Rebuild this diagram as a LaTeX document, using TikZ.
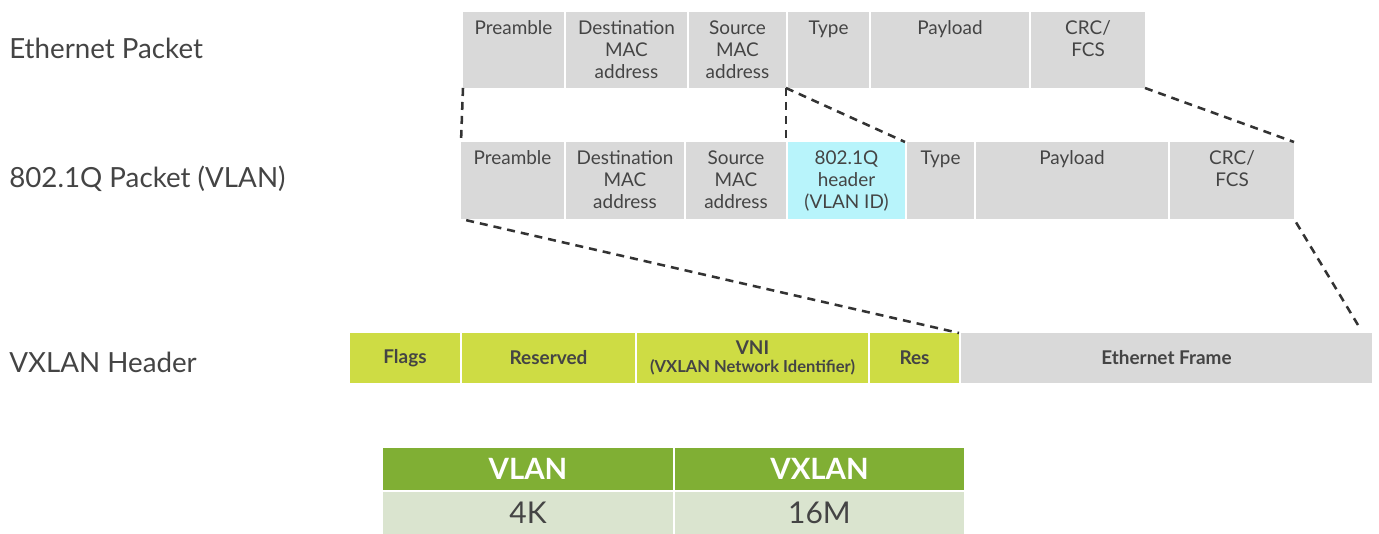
\documentclass[tikz,border=0pt]{standalone}
\usepackage{fontspec}
\setmainfont{Lato}
\definecolor{gbox}{HTML}{D9D9D9}
\definecolor{txt}{HTML}{444444}
\definecolor{cyanbox}{HTML}{B8F4FB}
\definecolor{lime}{HTML}{CEDC44}
\definecolor{thead}{HTML}{80AF34}
\definecolor{trow}{HTML}{DAE4CF}
\definecolor{dashc}{HTML}{333333}
\tikzset{
  cellbase/.style={rectangle, inner sep=0pt, outer sep=0pt, draw=none},
  grey/.style={fill=gbox},
  cyanf/.style={fill=cyanbox},
  limef/.style={fill=lime, text=txt, font=\fontsize{14.2}{14}\selectfont\bfseries, align=center},
  efr/.style={fill=gbox, text=txt, font=\fontsize{14.2}{14}\selectfont\bfseries},
  th/.style={fill=thead, text=white, font=\fontsize{22}{24}\selectfont\bfseries},
  tr/.style={fill=trow, text=txt, font=\fontsize{22.5}{24}\selectfont},
  ptext/.style={anchor=north, align=center, inner sep=0pt, text=txt, font=\fontsize{14.2}{16.5}\selectfont},
  rowlabel/.style={anchor=west, inner sep=0pt, text=txt, font=\fontsize{20.8}{22}\selectfont},
  dl/.style={draw=dashc, line width=1.9pt, dash pattern=on 6pt off 4.5pt}
}
\newcommand\cell[7]{%
  \node[cellbase,#6,minimum width={(#4-#2)*0.75pt},minimum height={(#5-#3)*0.75pt}] (#1) at ({(#2+#4)/2},{(#3+#5)/2}) {#7};}
\newcommand\pcell[7]{%
  \node[cellbase,#6,minimum width={(#4-#2)*0.75pt},minimum height={(#5-#3)*0.75pt}] (#1) at ({(#2+#4)/2},{(#3+#5)/2}) {};
  \node[ptext] (#1t) at ([yshift=-6.5pt]#1.north) {#7};}
\begin{document}
\begin{tikzpicture}[x=0.75pt,y=-0.75pt]
\useasboundingbox (0,0) rectangle (1379,534);
% row labels
\node[rowlabel] (l1) at (9,48) {Ethernet Packet};
\node[rowlabel] (l2) at (9,179) {802.1Q Packet (VLAN)};
\node[rowlabel] (l3) at (9,362) {VXLAN Header};
% Ethernet packet
\pcell{tpre}{463}{12}{564}{88}{grey}{Preamble}
\pcell{tdst}{566}{12}{687}{88}{grey}{Destination\\MAC\\address}
\pcell{tsrc}{689}{12}{786}{88}{grey}{Source\\MAC\\address}
\pcell{ttyp}{788}{12}{869}{88}{grey}{Type}
\pcell{tpay}{871}{12}{1029}{88}{grey}{Payload}
\pcell{tcrc}{1031}{12}{1145}{88}{grey}{CRC/\\FCS}
% 802.1Q packet
\pcell{mpre}{461}{142}{564}{219}{grey}{Preamble}
\pcell{mdst}{566}{142}{684}{219}{grey}{Destination\\MAC\\address}
\pcell{msrc}{686}{142}{786}{219}{grey}{Source\\MAC\\address}
\pcell{mq}{788}{142}{905}{219}{cyanf}{802.1Q\\header\\(VLAN ID)}
\pcell{mtyp}{907}{142}{974}{219}{grey}{Type}
\pcell{mpay}{976}{142}{1168}{219}{grey}{Payload}
\pcell{mcrc}{1170}{142}{1294}{219}{grey}{CRC/\\FCS}
% VXLAN header
\cell{vfl}{350}{333}{460}{383}{limef}{Flags}
\cell{vre}{462}{333}{635}{383}{limef}{Reserved}
\cell{vni}{637}{333}{868}{383}{limef}{VNI\\[-1pt]{\fontsize{12.4}{13}\selectfont (VXLAN Network Identifier)}}
\cell{vrs}{870}{333}{959}{383}{limef}{Res}
\cell{vef}{961}{333}{1372}{383}{efr}{Ethernet Frame}
% table
\cell{h1}{383}{448}{673}{490}{th}{VLAN}
\cell{h2}{675}{448}{964}{490}{th}{VXLAN}
\cell{r1}{383}{492}{673}{534}{tr}{4K}
\cell{r2}{675}{492}{964}{534}{tr}{16M}
% connectors
\coordinate (efend) at (1358,325);
\draw[dl] (tpre.south west) -- (mpre.north west);
\draw[dl] (tsrc.south east) -- (msrc.north east);
\draw[dl] (tsrc.south east) -- (mq.north east);
\draw[dl] (tcrc.south east) -- (mcrc.north east);
\draw[dl, shorten <=4pt] (mpre.south west) -- (vrs.north east);
\draw[dl, shorten <=3pt] (mcrc.south east) -- (efend);
\end{tikzpicture}
\end{document}
